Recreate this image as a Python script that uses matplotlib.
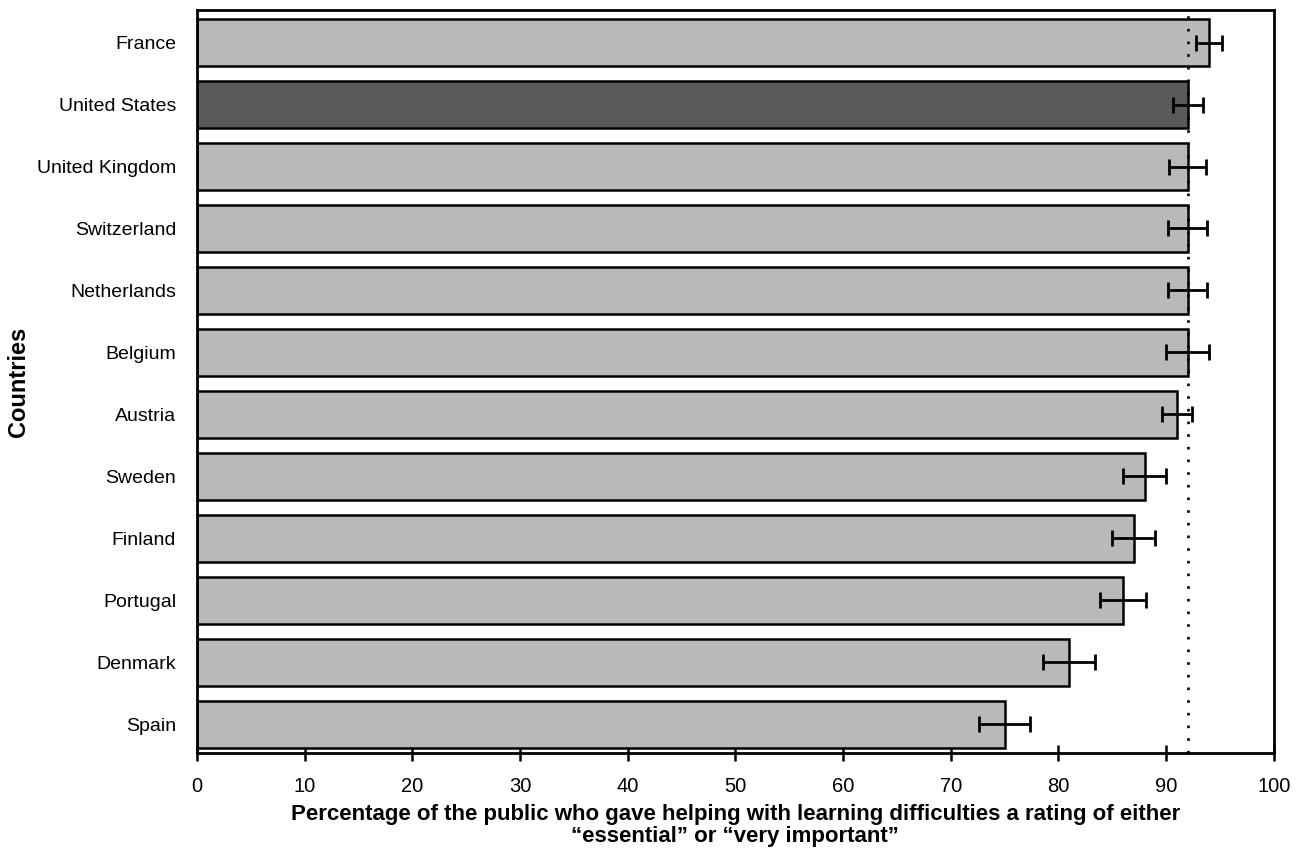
import matplotlib
matplotlib.use("Agg")
import matplotlib.pyplot as plt
import numpy as np

countries = ["France", "United States", "United Kingdom", "Switzerland", "Netherlands",
             "Belgium", "Austria", "Sweden", "Finland", "Portugal", "Denmark", "Spain"]
percent = [94, 92, 92, 92, 92, 92, 91, 88, 87, 86, 81, 75]
error = [1.2, 1.4, 1.7, 1.8, 1.8, 2.0, 1.4, 2.0, 2.0, 2.1, 2.4, 2.4]
highlight = "United States"
reference_value = 92
x_ticks = [0, 10, 20, 30, 40, 50, 60, 70, 80, 90, 100]

plt.rcParams["font.family"] = ["Liberation Sans", "DejaVu Sans"]

fig = plt.figure(figsize=(13.02, 8.58), dpi=100)
ax = fig.add_axes([0.1513, 0.1225, 0.827, 0.8655])

ypos = np.arange(len(countries))
colors = ["#5a5a5a" if c == highlight else "#b9b9b9" for c in countries]
ax.barh(ypos, percent, height=0.76, color=colors, edgecolor="black",
        linewidth=1.8, zorder=2)
ax.errorbar(percent, ypos, xerr=error, fmt="none", ecolor="black",
            elinewidth=2.0, capsize=5.5, capthick=2.0, zorder=4)
ax.axvline(reference_value, color="black", linewidth=1.9,
           linestyle=(0, (1, 3.8)), zorder=3)

ax.set_xlim(0, 100)
ax.set_ylim(len(countries) - 1 + 0.46, -0.52)
ax.set_xticks(x_ticks)
ax.set_xticklabels([str(t) for t in x_ticks])
ax.set_yticks(ypos)
ax.set_yticklabels(countries)

ax.tick_params(axis="x", direction="inout", length=12, width=1.8, labelsize=14.5, pad=11)
ax.tick_params(axis="y", length=0, labelsize=14, pad=15)
for s in ax.spines.values():
    s.set_linewidth(2.0)

ax.set_xlabel("Percentage of the public who gave helping with learning difficulties a rating of either\n"
              "\u201cessential\u201d or \u201cvery important\u201d",
              fontsize=16, fontweight="bold", labelpad=6, linespacing=1.05)
ax.set_ylabel("Countries", fontsize=17, fontweight="bold")
ax.yaxis.set_label_coords(-0.155, 0.5)

fig.savefig("out.png", dpi=100)
